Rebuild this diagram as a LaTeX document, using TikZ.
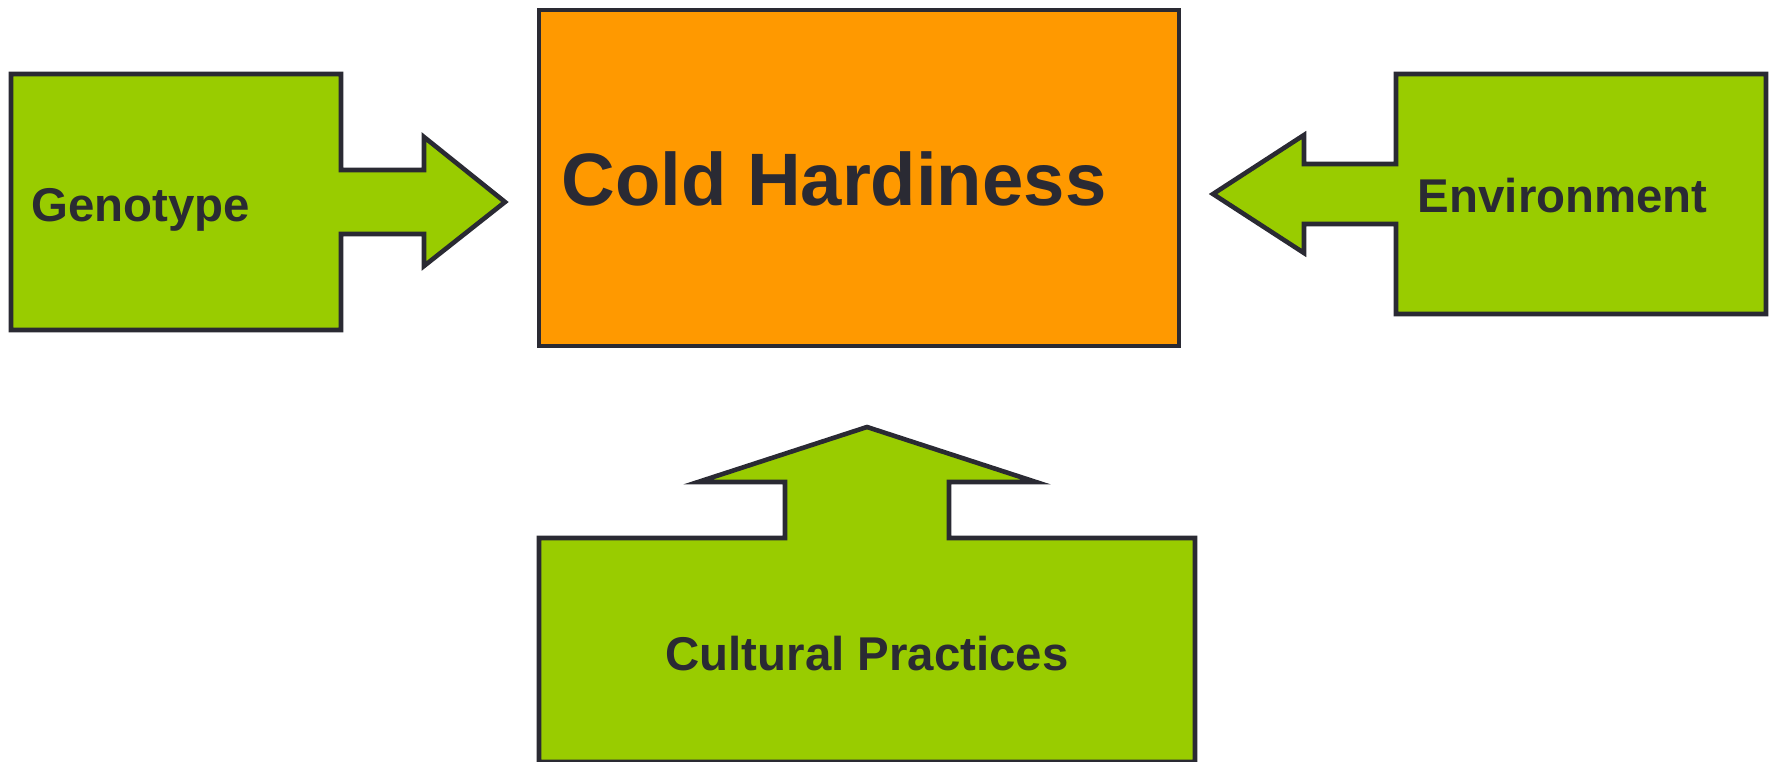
\documentclass[tikz,border=0pt]{standalone}
\usepackage{fontspec}
\setmainfont{Liberation Sans}
\definecolor{leaf}{HTML}{99CC00}
\definecolor{amber}{HTML}{FF9900}
\definecolor{ink}{HTML}{2A2A33}
\tikzstyle{factor}=[draw=ink, fill=leaf, line width=2.3pt]
\tikzstyle{target}=[draw=ink, fill=amber, line width=2.3pt]
\tikzstyle{txt}=[inner sep=0pt, text=ink, font=\bfseries\fontsize{23.7}{28}\selectfont]
\newcommand{\factor}{\draw[factor]}

\begin{document}
\begin{tikzpicture}[x=0.5pt, y=-0.5pt]
\useasboundingbox (0,0) rectangle (1771,761);
%target
\draw[target] (539,10) rectangle (1179,346);
\node[txt, anchor=base west, font=\bfseries\fontsize{37.15}{44}\selectfont] (cold) at (561,205) {Cold Hardiness};
%genotype, arrow to the right
\factor (11,74) -- (341,74) -- (341,170) -- (424,170) -- (424,137) -- (505,202)
	-- (424,266) -- (424,234) -- (341,234) -- (341,330) -- (11,330) -- cycle;
\node[txt, anchor=base west] (geno) at (31,221.7) {Genotype};
%environment, arrow to the left
\factor (1766,74) -- (1396,74) -- (1396,164) -- (1304,164) -- (1304,135) -- (1213,194)
	-- (1304,253) -- (1304,224) -- (1396,224) -- (1396,314) -- (1766,314) -- cycle;
\node[txt, anchor=base west] (env) at (1417.5,212.7) {Environment};
%cultural practices, arrow up
\factor (539,762) -- (539,538) -- (785,538) -- (785,482) -- (698,482) -- (867,427)
	-- (1036,482) -- (949,482) -- (949,538) -- (1195,538) -- (1195,762) -- cycle;
\node[txt, anchor=base] (cult) at (867,670) {Cultural Practices};
\end{tikzpicture}
\end{document}
